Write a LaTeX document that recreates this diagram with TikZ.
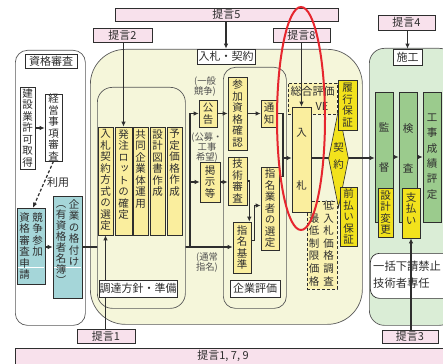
\documentclass[tikz,border=0pt]{standalone}
\usepackage{fontspec}
\setmainfont{Noto Sans CJK JP}
\newfontfamily\jpv[RawFeature={+vert}]{Noto Sans CJK JP}
\usetikzlibrary{shapes.geometric,arrows.meta}

\definecolor{ink}{HTML}{2E2E2E}
\definecolor{pinkbar}{HTML}{F8E1EC}
\definecolor{creamfill}{HTML}{F5F6DA}
\definecolor{paleyel}{HTML}{FAEE9E}
\definecolor{brightyel}{HTML}{F2E21C}
\definecolor{tealbx}{HTML}{A5D6D9}
\definecolor{greenbg}{HTML}{DAEDD6}
\definecolor{greenbx}{HTML}{9BCB8D}
\definecolor{dashfill}{HTML}{FAF2B2}
\definecolor{ringred}{HTML}{E6262E}
\definecolor{labgray}{HTML}{505050}

\newcommand\vf{\jpv\fontsize{10.5}{11.5}\selectfont}
\newcommand\hf{\fontsize{11}{13}\selectfont}
\newcommand\smf{\fontsize{9.3}{10}\selectfont}

\tikzset{
 bx/.style={draw=ink, line width=0.6pt, inner sep=0pt, align=center, text=ink, font=\vf},
 pbar/.style={draw=ink, line width=0.6pt, fill=pinkbar, inner sep=0pt, text=ink, font=\hf},
 lab/.style={draw=ink, line width=0.6pt, fill=white, inner sep=0pt, text=ink, font=\hf},
 grp/.style={draw=ink!80, line width=0.7pt, inner sep=0pt},
 vt/.style={inner sep=0pt, align=center, text=ink, font=\vf},
 ln/.style={draw=ink, line width=1.1pt},
 arr/.style={ln, -{Latex[length=5pt,width=4.5pt]}},
 note/.style={inner sep=0pt, align=center, text=labgray, font=\smf},
 dbox/.style={draw=ink, line width=0.9pt, densely dashed, fill=dashfill, inner sep=0pt},
}

\begin{document}
\begin{tikzpicture}[x=1pt,y=-1pt]
\useasboundingbox (0,0) rectangle (443,363);
\clip (0,0) rectangle (443,363);

% pink bars
\node[pbar, minimum width=223pt, minimum height=13pt] (p5) at (226.5,14.5) {提言5};
\node[pbar, minimum width=59pt, minimum height=14pt] (p2) at (122.5,35) {提言2};
\node[pbar, minimum width=57pt, minimum height=14pt] (p8) at (301.5,35) {提言8};
\node[pbar, minimum width=57pt, minimum height=15pt] (p4) at (406.5,22.5) {提言4};
\node[pbar, minimum width=58pt, minimum height=14pt] (p1) at (106,336) {提言1};
\node[pbar, minimum width=56pt, minimum height=13pt] (p3) at (410,336.5) {提言3};
\node[pbar, minimum width=440pt, minimum height=24pt, anchor=north west] (p179) at (15,348) {};
\node[inner sep=0pt, text=ink, font=\hf] (p179t) at (223,356) {提言1, 7, 9};

% qualification group
\node[grp, fill=white, rounded corners=12pt, minimum width=70pt, minimum height=275pt, anchor=north west] (g1) at (15,50) {};
\node[lab, minimum width=52pt, minimum height=14pt] (l1) at (51,61.5) {資格審査};
\node[bx, fill=white, minimum width=15pt, minimum height=82pt] (kensetsu) at (27.5,128) {建\\設\\業\\許\\可\\取\\得};
\node[bx, fill=white, minimum width=17pt, minimum height=66pt] (keiei) at (53.5,127.5) {経\\営\\事\\項\\審\\査};
\draw[arr] (kensetsu.east) -- (kensetsu.east -| keiei.west);
\node[bx, fill=tealbx, minimum width=28pt, minimum height=76pt] (kyoso) at (31,246) {};
\node[bx, fill=tealbx, minimum width=29pt, minimum height=102pt] (kigyo) at (67.5,247) {};
\draw[white, line width=1pt] (17.6,267) -- (44.4,267);
\draw[white, line width=1pt] (53.6,267) -- (81.4,267);
\node[vt, anchor=north] (kyosoR) at (37.5,212) {競\\争\\参\\加};
\node[vt, anchor=north] (kyosoL) at (24.5,212) {資\\格\\審\\査\\申\\請};
\node[vt, anchor=north] (kigyoR) at (74,199) {企\\業\\の\\格\\付\\け};
\node[vt, anchor=north, font=\jpv\fontsize{10.5}{11}\selectfont] (kigyoL) at (61,205) {︵\\有\\資\\格\\者\\名\\簿\\︶};
\draw[arr, densely dashed, line width=1.2pt] (keiei.south) -- ([xshift=2pt]kyoso.north);
\draw[arr] (kyoso.east |- kigyo.east) -- (kigyo.west);
\node[inner sep=0pt, text=ink, font=\hf] (riyou) at (58,182) {利用};

% big tender/contract group
\node[grp, fill=creamfill, rounded corners=35pt, minimum width=272pt, minimum height=275pt, anchor=north west] (g2) at (90,49) {};
\coordinate (j1) at (190,247);
\draw[ln] (kigyo.east) -- (kigyo.east -| j1);

% preparation group
\node[grp, fill=creamfill, rounded corners=15pt, minimum width=88pt, minimum height=221pt, anchor=north west] (g3) at (97,87) {};
\node[bx, fill=paleyel, minimum width=15pt, minimum height=108pt] (b1) at (105.5,181) {};
\node[vt, anchor=north] (b1t) at (105.5,129.5) {入\\札\\契\\約\\方\\式\\の\\選\\定};
\node[bx, fill=paleyel, minimum width=17pt, minimum height=108pt] (b2) at (123.5,181) {};
\node[vt, anchor=north] (b2t) at (123.5,129.5) {発\\注\\ロ\\ッ\\ト\\の\\確\\定};
\node[bx, fill=paleyel, minimum width=15pt, minimum height=108pt] (b3) at (140.5,181) {};
\node[vt, anchor=north] (b3t) at (140.5,129.5) {共\\同\\企\\業\\体\\運\\用};
\node[bx, fill=paleyel, minimum width=15pt, minimum height=108pt] (b4) at (157.5,181) {};
\node[vt, anchor=north] (b4t) at (157.5,129.5) {設\\計\\図\\書\\作\\成};
\node[bx, fill=paleyel, minimum width=15pt, minimum height=108pt] (b5) at (174.5,181) {};
\node[vt, anchor=north] (b5t) at (174.5,129.5) {予\\定\\価\\格\\作\\成};
\draw[arr] (p1.north -| b1.south) -- (b1.south);
\draw[arr] (p2.south -| b2.north) -- (b2.north);
\node[lab, minimum width=78pt, minimum height=17pt] (l3) at (138,288.5) {調達方針・準備};

% company evaluation group
\node[grp, fill=creamfill, rounded corners=12pt, minimum width=63pt, minimum height=241pt, anchor=north west] (g4) at (223,67) {};
\node[lab, minimum width=50pt, minimum height=17pt] (l4) at (255,288.5) {企業評価};
\node[lab, minimum width=58pt, minimum height=15pt] (l2) at (226,56.5) {入札・契約};
\draw[arr] (p5.south -| l2.north) -- (l2.north);

\node[note] (n1) at (205,87) {(一般\\競争)};
\node[note] (n2) at (207,148) {(公募・\\工事\\希望)};
\node[note] (n3) at (207,262) {(通常\\指名)};

\node[bx, fill=paleyel, minimum width=18pt, minimum height=27pt] (kokoku) at (208,113.5) {公\\告};
\node[bx, fill=paleyel, minimum width=20pt, minimum height=40pt] (keiji) at (210,182) {掲\\示\\等};
\node[bx, fill=paleyel, minimum width=19pt, minimum height=73pt] (sanka) at (237.5,113.5) {参\\加\\資\\格\\確\\認};
\node[bx, fill=paleyel, minimum width=16pt, minimum height=27pt] (tsuchi) at (269,113.5) {通\\知};
\node[bx, fill=paleyel, minimum width=19pt, minimum height=48pt] (gijutsu) at (237.5,181) {技\\術\\審\\査};
\node[bx, fill=paleyel, minimum width=18pt, minimum height=51pt] (kijun) at (242,247.5) {指\\名\\基\\準};
\node[bx, fill=paleyel, minimum width=18pt, minimum height=83pt] (gyosha) at (270,208.5) {指\\名\\業\\者\\の\\選\\定};

\draw[arr] (j1) |- (kokoku.west);
\draw[arr] (j1 |- keiji.west) -- (keiji.west);
\draw[arr] (j1) -- (j1 -| kijun.west);
\draw[arr] (kokoku.east) -- (kokoku.east -| sanka.west);
\draw[arr] (sanka.east) -- (sanka.east -| tsuchi.west);
\draw[arr] (keiji.east) -- (keiji.east -| gijutsu.west);
\draw[arr] (gijutsu.east) -| ([xshift=-2pt]kijun.north east);
\draw[arr] ([yshift=7pt]kijun.east) -- ++(3,0) |- ([yshift=3pt]gyosha.west);

% tender area
\node[dbox, minimum width=49pt, minimum height=31pt] (sogo) at (312.5,98.5) {};
\node[inner sep=0pt, text=ink, font=\hf] (sogot) at (312.5,91.5) {総合評価};
\node[inner sep=0pt, text=ink, font=\hf] (vet) at (322,106) {VE};
\node[dbox, minimum width=30pt, minimum height=88pt] (teinyu) at (322,245) {};
\node[vt, anchor=north, font=\jpv\fontsize{10.5}{12.6}\selectfont] (teinyuR) at (328.5,200.5) {低\\入\\札\\価\\格\\調\\査};
\node[vt, anchor=north, font=\jpv\fontsize{10.5}{12.6}\selectfont] (teinyuL) at (314,213.5) {最\\低\\制\\限\\価\\格};
\node[bx, fill=paleyel, minimum width=19pt, minimum height=105pt] (nyusatsu) at (301.5,159.5) {入\\[41pt]札};
\coordinate (jn) at (283,158);
\draw[ln] (tsuchi.east) -| (jn);
\draw[ln] ([yshift=-10pt]gyosha.north east) -| (jn);
\draw[arr] (jn) -- (jn -| nyusatsu.west);
\draw[arr] (p8.south -| nyusatsu.north) -- (nyusatsu.north);

% construction group
\node[grp, fill=greenbg, rounded corners=15pt, minimum width=85pt, minimum height=277pt, anchor=north west] (g5) at (369,48) {};
\node[lab, minimum width=29pt, minimum height=16pt] (l5) at (407.5,57) {施工};
\draw[arr] (p4.south -| l5.north) -- (l5.north);
\node[bx, fill=greenbx, minimum width=18pt, minimum height=130pt] (kantoku) at (384,157) {};
\node[vt] (kantokut) at (384,148) {監\\[28.5pt]督};
\node[bx, fill=greenbx, minimum width=18pt, minimum height=130pt] (kensa) at (408,157) {};
\node[vt] (kensat) at (408,148) {検\\[28.5pt]査};
\node[bx, fill=greenbx, minimum width=18pt, minimum height=130pt] (hyotei) at (432,157) {};
\node[vt, font=\jpv\fontsize{10.5}{15.4}\selectfont] (hyoteit) at (432,156.5) {工\\事\\成\\績\\評\\定};
\draw[arr] (kantoku.east) -- (kensa.west);
\draw[arr] (kensa.east) -- (hyotei.west);
\node[bx, fill=brightyel, minimum width=15pt, minimum height=49pt] (sekkei) at (385.5,212.5) {設\\計\\変\\更};
\node[bx, fill=brightyel, minimum width=18pt, minimum height=50pt] (shiharai) at (411,213) {};
\node[vt, anchor=north] (shiharait) at (411,192) {支\\払\\い};
\node[grp, draw=ink, fill=white, rounded corners=9pt, minimum width=85pt, minimum height=45pt, anchor=north west] (ikkatsu) at (370,253) {};
\node[inner sep=0pt, anchor=west, align=left, text=ink, font=\fontsize{11.3}{17}\selectfont] (ikkatsut) at (373,275) {一括下請禁止\\技術者専任};
\draw[arr] (p3.north -| shiharai.south) -- (shiharai.south);

% contract
\draw[arr] ([yshift=1.5pt]nyusatsu.east) -- ([yshift=1.5pt]nyusatsu.east -| kantoku.west);
\node[diamond, draw=ink, line width=0.6pt, fill=brightyel, inner sep=0pt, minimum width=20pt, minimum height=98pt] (keiyaku) at (338.5,158.5) {};
\node[vt] (keiyakut) at (338.5,156.5) {契\\[5.5pt]約};
\node[bx, fill=brightyel, minimum width=19pt, minimum height=50pt] (rikou) at (347.5,105) {履\\行\\保\\証};
\node[bx, fill=brightyel, minimum width=17pt, minimum height=59pt] (maebarai) at (348.5,216.5) {前\\払\\い\\保\\証};

% red ring
\draw[ringred, line width=2pt] (301,118.5) ellipse [x radius=24, y radius=111.5];
\end{tikzpicture}
\end{document}
